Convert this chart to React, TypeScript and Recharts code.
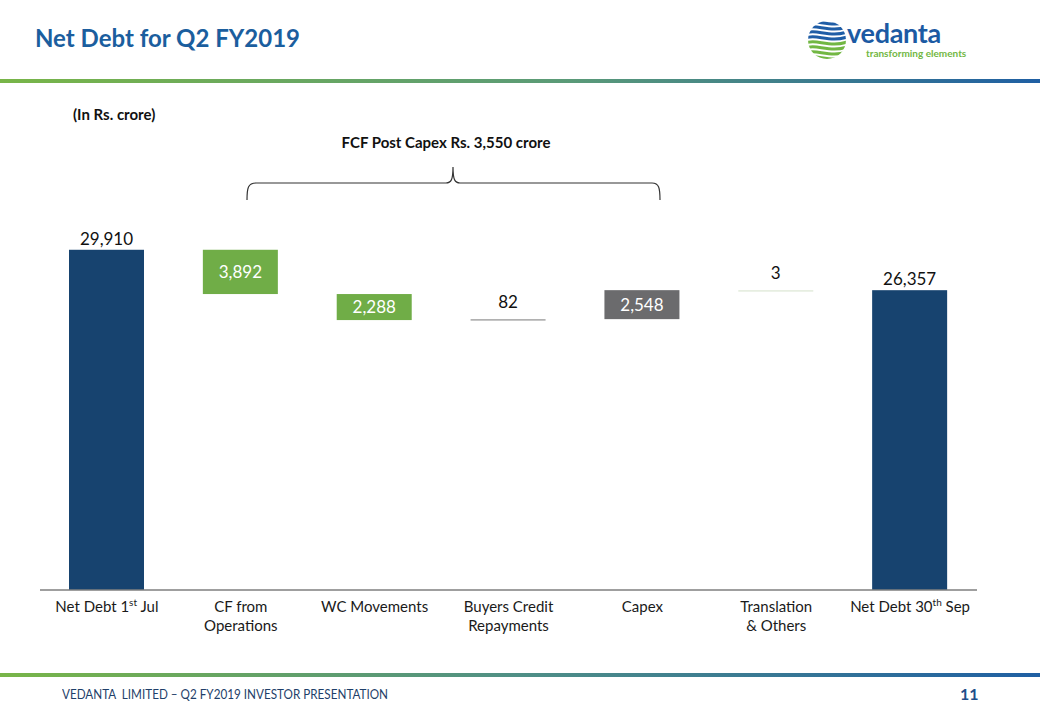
import React from 'react';
import { ComposedChart, Bar, XAxis, YAxis, Cell, LabelList } from 'recharts';

// categories, split into lines; ^x^ marks superscript text
const categories = [
  ['Net Debt 1^st^ Jul'],
  ['CF from', 'Operations'],
  ['WC Movements'],
  ['Buyers Credit', 'Repayments'],
  ['Capex'],
  ['Translation', '& Others'],
  ['Net Debt 30^th^ Sep'],
];
const amounts = [29910, -3892, -2288, 82, 2548, -3, 26357];
const kinds = ['total', 'delta', 'delta', 'delta', 'delta', 'delta', 'total'];

const BAR_COLORS = ['#17436f', '#70ad47', '#70ad47', '#a6a6a6', '#6b6b6d', '#e3ebdc', '#17436f'];
const FONT = "Lato, 'Open Sans', sans-serif";

let running = 0;
const rows = categories.map((lines, i) => {
  const a = amounts[i];
  if (kinds[i] === 'total') {
    running = a;
    return { name: lines.join(' '), lines, base: 0, value: a, label: a };
  }
  const start = running;
  running += a;
  return { name: lines.join(' '), lines, base: Math.min(start, running), value: Math.abs(a), label: Math.abs(a) };
});

function renderLine(line: string) {
  const parts = line.split('^');
  const out: React.ReactNode[] = [];
  let shifted = false;
  parts.forEach((p, k) => {
    if (!p) return;
    const sup = k % 2 === 1;
    let dy = 0;
    if (sup && !shifted) { dy = -6; shifted = true; }
    else if (!sup && shifted) { dy = 6; shifted = false; }
    out.push(
      <tspan key={k} dy={dy} fontSize={sup ? 10 : 15}>{p}</tspan>
    );
  });
  return out;
}

const CategoryTick = (props: any) => {
  const { x, y, index } = props;
  const lines = categories[index] || [];
  return (
    <g>
      {lines.map((ln, j) => (
        <text key={j} x={x} y={y + 20 + j * 19} textAnchor="middle" fill="#1a1a1a" fontFamily={FONT} fontSize={15}>
          {renderLine(ln)}
        </text>
      ))}
    </g>
  );
};

const ValueShape = (props: any) => {
  const { x, y, width, height, index } = props;
  const h = Math.max(height, 1.5);
  return <rect x={x} y={y} width={width} height={h} fill={BAR_COLORS[index]} />;
};

const ValueLabel = (props: any) => {
  const { x, y, width, height, index, value } = props;
  const text = Number(value).toLocaleString('en-US');
  const cx = x + width / 2;
  if (kinds[index] === 'delta' && height > 15) {
    return (
      <text x={cx} y={y + height / 2 + 6} textAnchor="middle" fill="#ffffff" fontFamily={FONT} fontSize={17}>
        {text}
      </text>
    );
  }
  const gap = kinds[index] === 'delta' && height < 1 ? 11 : 5;
  return (
    <text x={cx} y={y - gap} textAnchor="middle" fill="#111" fontFamily={FONT} fontSize={17}>
      {text}
    </text>
  );
};

const Logo = () => (
  <svg width={200} height={50} style={{ position: 'absolute', left: 800, top: 16 }}>
    <defs>
      <clipPath id="lg">
        <circle cx={27} cy={24} r={19} />
      </clipPath>
    </defs>
    <g clipPath="url(#lg)" fill="none" strokeWidth={3}>
      {[0, 1, 2, 3, 4, 5, 6, 7].map((k) => (
        <path
          key={k}
          d={`M6 ${7 + k * 5} C16 ${2 + k * 5}, 30 ${13 + k * 5}, 50 ${5 + k * 5}`}
          stroke={k < 4 ? '#1f5da6' : '#72b743'}
        />
      ))}
    </g>
    <text x={47} y={27} fontFamily={FONT} fontWeight={700} fontSize={27} fill="#1c5aa3" letterSpacing={-0.3}>
      vedanta
    </text>
    <text x={66} y={41} fontFamily={FONT} fontWeight={700} fontSize={10} fill="#72b743">
      transforming elements
    </text>
  </svg>
);

export default function App() {
  return (
    <div style={{ position: 'absolute', left: 0, top: 0, width: 1040, height: 720, background: '#fff', fontFamily: FONT, overflow: 'hidden' }}>
      <div style={{ position: 'absolute', left: 35, top: 23, fontSize: 24, fontWeight: 700, color: '#1b5e9e' }}>
        Net Debt for Q2 FY2019
      </div>
      <Logo />
      <div style={{ position: 'absolute', left: 0, top: 79, width: 1040, height: 4, background: 'linear-gradient(to right, #78b548, #5a9a78 55%, #1f5fa3)' }} />
      <div style={{ position: 'absolute', left: 73, top: 105, fontSize: 15, fontWeight: 700, color: '#111' }}>
        (In Rs. crore)
      </div>
      <div style={{ position: 'absolute', left: 246, width: 400, textAlign: 'center', top: 133, fontSize: 15, fontWeight: 700, color: '#111' }}>
        FCF Post Capex Rs. 3,550 crore
      </div>
      <svg width={1040} height={60} style={{ position: 'absolute', left: 0, top: 155 }}>
        <path
          d="M247 45 C247 33, 248 28, 256 28 L446 28 C451 28, 453 25, 453 12 C453 25, 455 28, 460 28 L652 28 C659 28, 660 33, 660 45"
          fill="none"
          stroke="#333"
          strokeWidth={1.2}
        />
      </svg>
      <div style={{ position: 'absolute', left: 0, top: 0 }}>
        <ComposedChart
          width={1040}
          height={720}
          data={rows}
          barCategoryGap={0}
          margin={{ top: 226, right: 63, left: 40, bottom: 70 }}
        >
          <XAxis
            dataKey="name"
            interval={0}
            tickLine={false}
            tickSize={0}
            height={60}
            axisLine={{ stroke: '#7f7f7f', strokeWidth: 1.5 }}
            tick={<CategoryTick />}
          />
          <YAxis hide domain={[0, 32000]} />
          <Bar dataKey="base" stackId="w" fill="transparent" barSize={75} isAnimationActive={false} />
          <Bar dataKey="value" stackId="w" barSize={75} shape={<ValueShape />} isAnimationActive={false}>
            {rows.map((r, i) => (
              <Cell key={r.name} fill={BAR_COLORS[i]} />
            ))}
            <LabelList dataKey="label" content={<ValueLabel />} />
          </Bar>
        </ComposedChart>
      </div>
      <div style={{ position: 'absolute', left: 0, top: 673, width: 1040, height: 4, background: 'linear-gradient(to right, #78b548, #4f8f86 50%, #1f5fa3)' }} />
      <div style={{ position: 'absolute', left: 62, top: 686, fontSize: 13, color: '#1f3f6a', whiteSpace: 'nowrap', transform: 'scaleX(0.9)', transformOrigin: 'left top' }}>
        VEDANTA&nbsp; LIMITED – Q2 FY2019 INVESTOR PRESENTATION
      </div>
      <div style={{ position: 'absolute', left: 960, top: 684, fontSize: 16, fontWeight: 700, color: '#1f4f8a' }}>
        11
      </div>
    </div>
  );
}
